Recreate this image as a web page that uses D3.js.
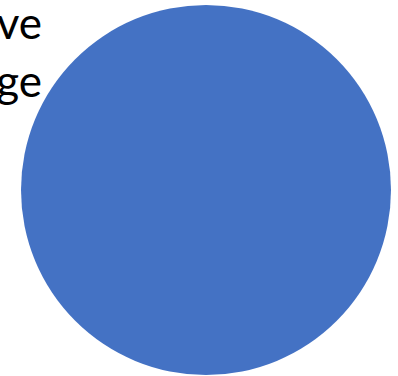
<!DOCTYPE html>
<html>
<head>
<meta charset="utf-8">
<script src="https://cdn.jsdelivr.net/npm/d3@7"></script>
<style>
html,body{margin:0;padding:0;background:#fff;overflow:hidden;}
</style>
</head>
<body>
<svg id="chart" width="398" height="376"></svg>
<script>
const categories = ["Series 1"];
const values = [100];
const labelLines = ["ve", "ge"];
const colors = ["#4472C4"];

const svg = d3.select("#chart");
const width = 398, height = 376;
const cx = 206, cy = 190, radius = 185;

const pie = d3.pie().sort(null).value(d => d);
const arc = d3.arc().innerRadius(0).outerRadius(radius);
const color = d3.scaleOrdinal().domain(categories).range(colors);

const g = svg.append("g").attr("transform", `translate(${cx},${cy})`);
g.selectAll("path")
  .data(pie(values))
  .join("path")
  .attr("d", arc)
  .attr("fill", (d, i) => color(categories[i]));

svg.append("g")
  .selectAll("text")
  .data(labelLines)
  .join("text")
  .attr("x", 42)
  .attr("y", (d, i) => 39 + i * 58)
  .attr("text-anchor", "end")
  .attr("font-family", "Lato, 'Open Sans', sans-serif")
  .attr("font-size", 44)
  .attr("fill", "#000")
  .text(d => d);
</script>
</body>
</html>
